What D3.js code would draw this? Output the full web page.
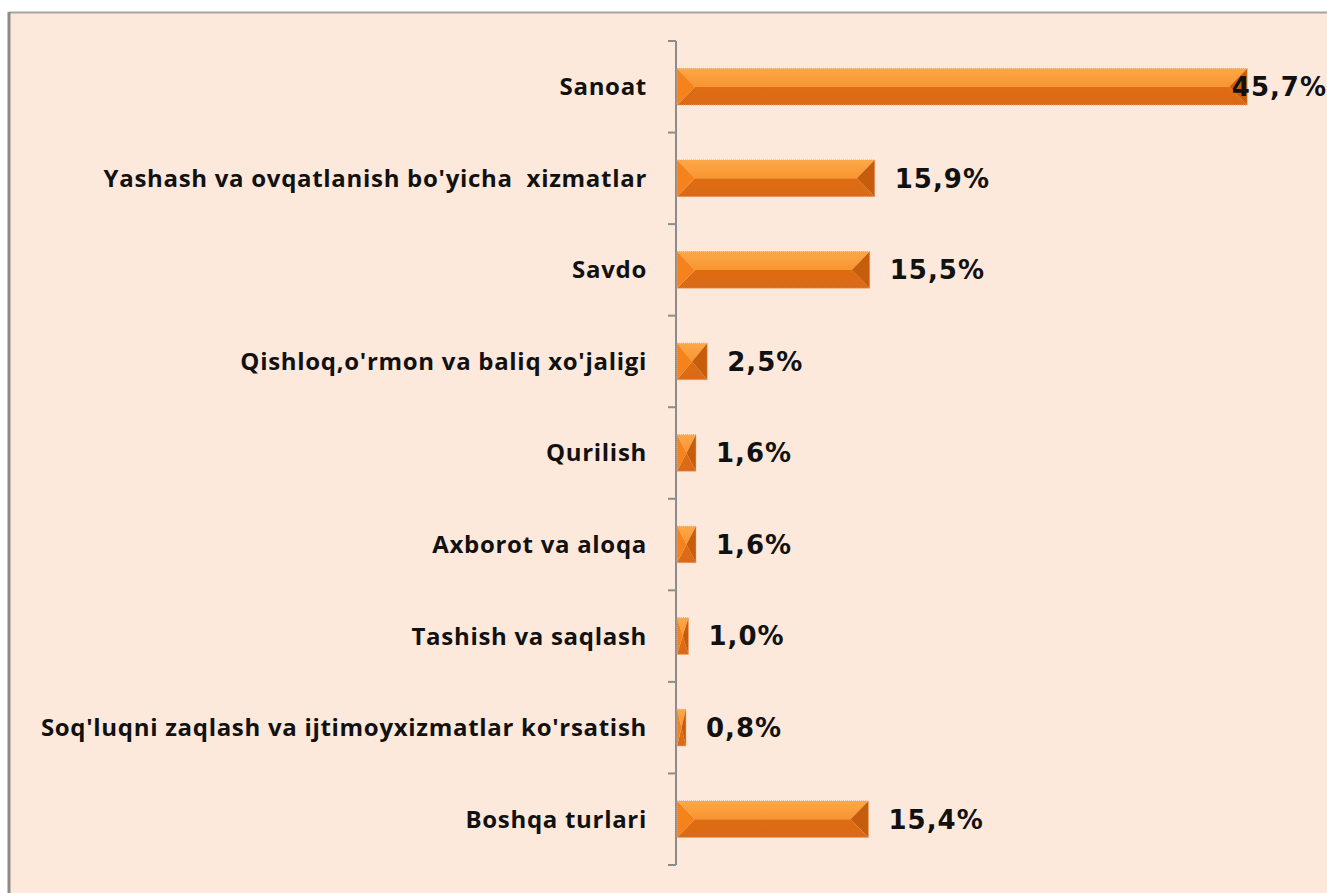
<!DOCTYPE html>
<html>
<head>
<meta charset="utf-8">
<script src="https://cdn.jsdelivr.net/npm/d3@7"></script>
<style>
  html, body { margin: 0; padding: 0; background: #ffffff; }
  svg { display: block; }
</style>
</head>
<body>
<div id="chart"></div>
<script>
const categories = [
  'Sanoat',
  "Yashash va ovqatlanish bo'yicha  xizmatlar",
  'Savdo',
  "Qishloq,o'rmon va baliq xo'jaligi",
  'Qurilish',
  'Axborot va aloqa',
  'Tashish va saqlash',
  "Soq'luqni zaqlash va ijtimoyxizmatlar ko'rsatish",
  'Boshqa turlari'
];
const values = [45.7, 15.9, 15.5, 2.5, 1.6, 1.6, 1.0, 0.8, 15.4];
const xDomain = [0, 50];

const W = 1327, H = 893;
const AXIS_X = 676;

const locale = d3.formatLocale({ decimal: ',', thousands: ' ', grouping: [3], currency: ['', ''] });
const fmt = v => locale.format('.1f')(v) + '%';

const svg = d3.select('#chart').append('svg')
  .attr('width', W)
  .attr('height', H);

// frame
svg.append('rect')
  .attr('x', 10).attr('y', 13)
  .attr('width', W).attr('height', H)
  .attr('fill', '#fde9dc');
svg.append('line')
  .attr('x1', 9).attr('x2', W).attr('y1', 12.5).attr('y2', 12.5)
  .attr('stroke', '#a7a39f').attr('stroke-width', 2);
svg.append('line')
  .attr('x1', 9).attr('x2', 9).attr('y1', 12).attr('y2', H)
  .attr('stroke', '#8e8a86').attr('stroke-width', 3);

const x = d3.scaleLinear().domain(xDomain).range([AXIS_X, AXIS_X + 625]);
const y = d3.scaleBand().domain(categories).range([41, 865])
  .paddingInner(0.6).paddingOuter(0.3);

const defs = svg.append('defs');
const gTop = defs.append('linearGradient').attr('id', 'gTop')
  .attr('x1', 0).attr('x2', 0).attr('y1', 0).attr('y2', 1);
gTop.append('stop').attr('offset', '0%').attr('stop-color', '#fca849');
gTop.append('stop').attr('offset', '100%').attr('stop-color', '#f8952f');
const gBot = defs.append('linearGradient').attr('id', 'gBot')
  .attr('x1', 0).attr('x2', 0).attr('y1', 0).attr('y2', 1);
gBot.append('stop').attr('offset', '0%').attr('stop-color', '#e06c0f');
gBot.append('stop').attr('offset', '100%').attr('stop-color', '#d86a1a');

// axis with boundary ticks
const step = y.step();
const y0 = y.range()[0];
const ticks = d3.range(categories.length + 1).map(i => y0 + i * step);
const axis = svg.append('g').attr('class', 'axis');
axis.append('line')
  .attr('x1', AXIS_X).attr('x2', AXIS_X)
  .attr('y1', ticks[0]).attr('y2', ticks[ticks.length - 1])
  .attr('stroke', '#8c8c8c').attr('stroke-width', 2);
axis.selectAll('.tick').data(ticks).enter().append('line')
  .attr('class', 'tick')
  .attr('x1', AXIS_X - 8).attr('x2', AXIS_X)
  .attr('y1', d => d).attr('y2', d => d)
  .attr('stroke', '#8c8c8c').attr('stroke-width', 2);

// bars
const bars = svg.selectAll('.bar')
  .data(categories.map((c, i) => ({ name: c, value: values[i] })))
  .enter().append('g')
  .attr('class', 'bar');

const poly = pts => pts.map(p => p.join(',')).join(' ');

bars.each(function(d) {
  const g = d3.select(this);
  const x0 = x(0) + 1, x1 = x(d.value);
  const top = y(d.name), h = y.bandwidth(), bot = top + h, mid = top + h / 2;
  const b = Math.min(18, (x1 - x0) / 2);
  g.append('polygon').attr('points', poly([[x0, top], [x1, top], [x1 - b, mid], [x0 + b, mid]]))
    .attr('fill', 'url(#gTop)');
  g.append('polygon').attr('points', poly([[x0, bot], [x1, bot], [x1 - b, mid], [x0 + b, mid]]))
    .attr('fill', 'url(#gBot)');
  g.append('polygon').attr('points', poly([[x0, top], [x0 + b, mid], [x0, bot]]))
    .attr('fill', '#f5821a');
  g.append('polygon').attr('points', poly([[x1, top], [x1 - b, mid], [x1, bot]]))
    .attr('fill', '#c55d0c');
  g.append('rect')
    .attr('x', x0).attr('y', top)
    .attr('width', x1 - x0).attr('height', h)
    .attr('fill', 'none')
    .attr('stroke', '#eea772').attr('stroke-width', 1)
    .attr('stroke-dasharray', '1,1');
});

// category labels
svg.selectAll('.cat').data(categories).enter().append('text')
  .attr('class', 'cat')
  .attr('x', AXIS_X - 29)
  .attr('y', d => y(d) + y.bandwidth() / 2)
  .attr('dy', '0.35em')
  .attr('text-anchor', 'end')
  .style('font-family', '"Open Sans", sans-serif')
  .style('font-weight', 700)
  .style('font-size', '24px')
  .style('letter-spacing', '0.7px')
  .style('white-space', 'pre')
  .attr('fill', '#111')
  .text(d => d);

// value labels
svg.selectAll('.val').data(values).enter().append('text')
  .attr('class', 'val')
  .attr('y', (d, i) => y(categories[i]) + y.bandwidth() / 2)
  .attr('dy', '0.36em')
  .style('font-family', '"DejaVu Sans", Verdana, sans-serif')
  .style('font-weight', 700)
  .style('font-size', '26px')
  .style('letter-spacing', '1px')
  .attr('fill', '#111')
  .text(d => fmt(d))
  .each(function(d) {
    const t = d3.select(this);
    const w = this.getComputedTextLength();
    let px = x(d) + 20;
    if (px + w > W) px = W - w;
    t.attr('x', px);
  });
</script>
</body>
</html>
